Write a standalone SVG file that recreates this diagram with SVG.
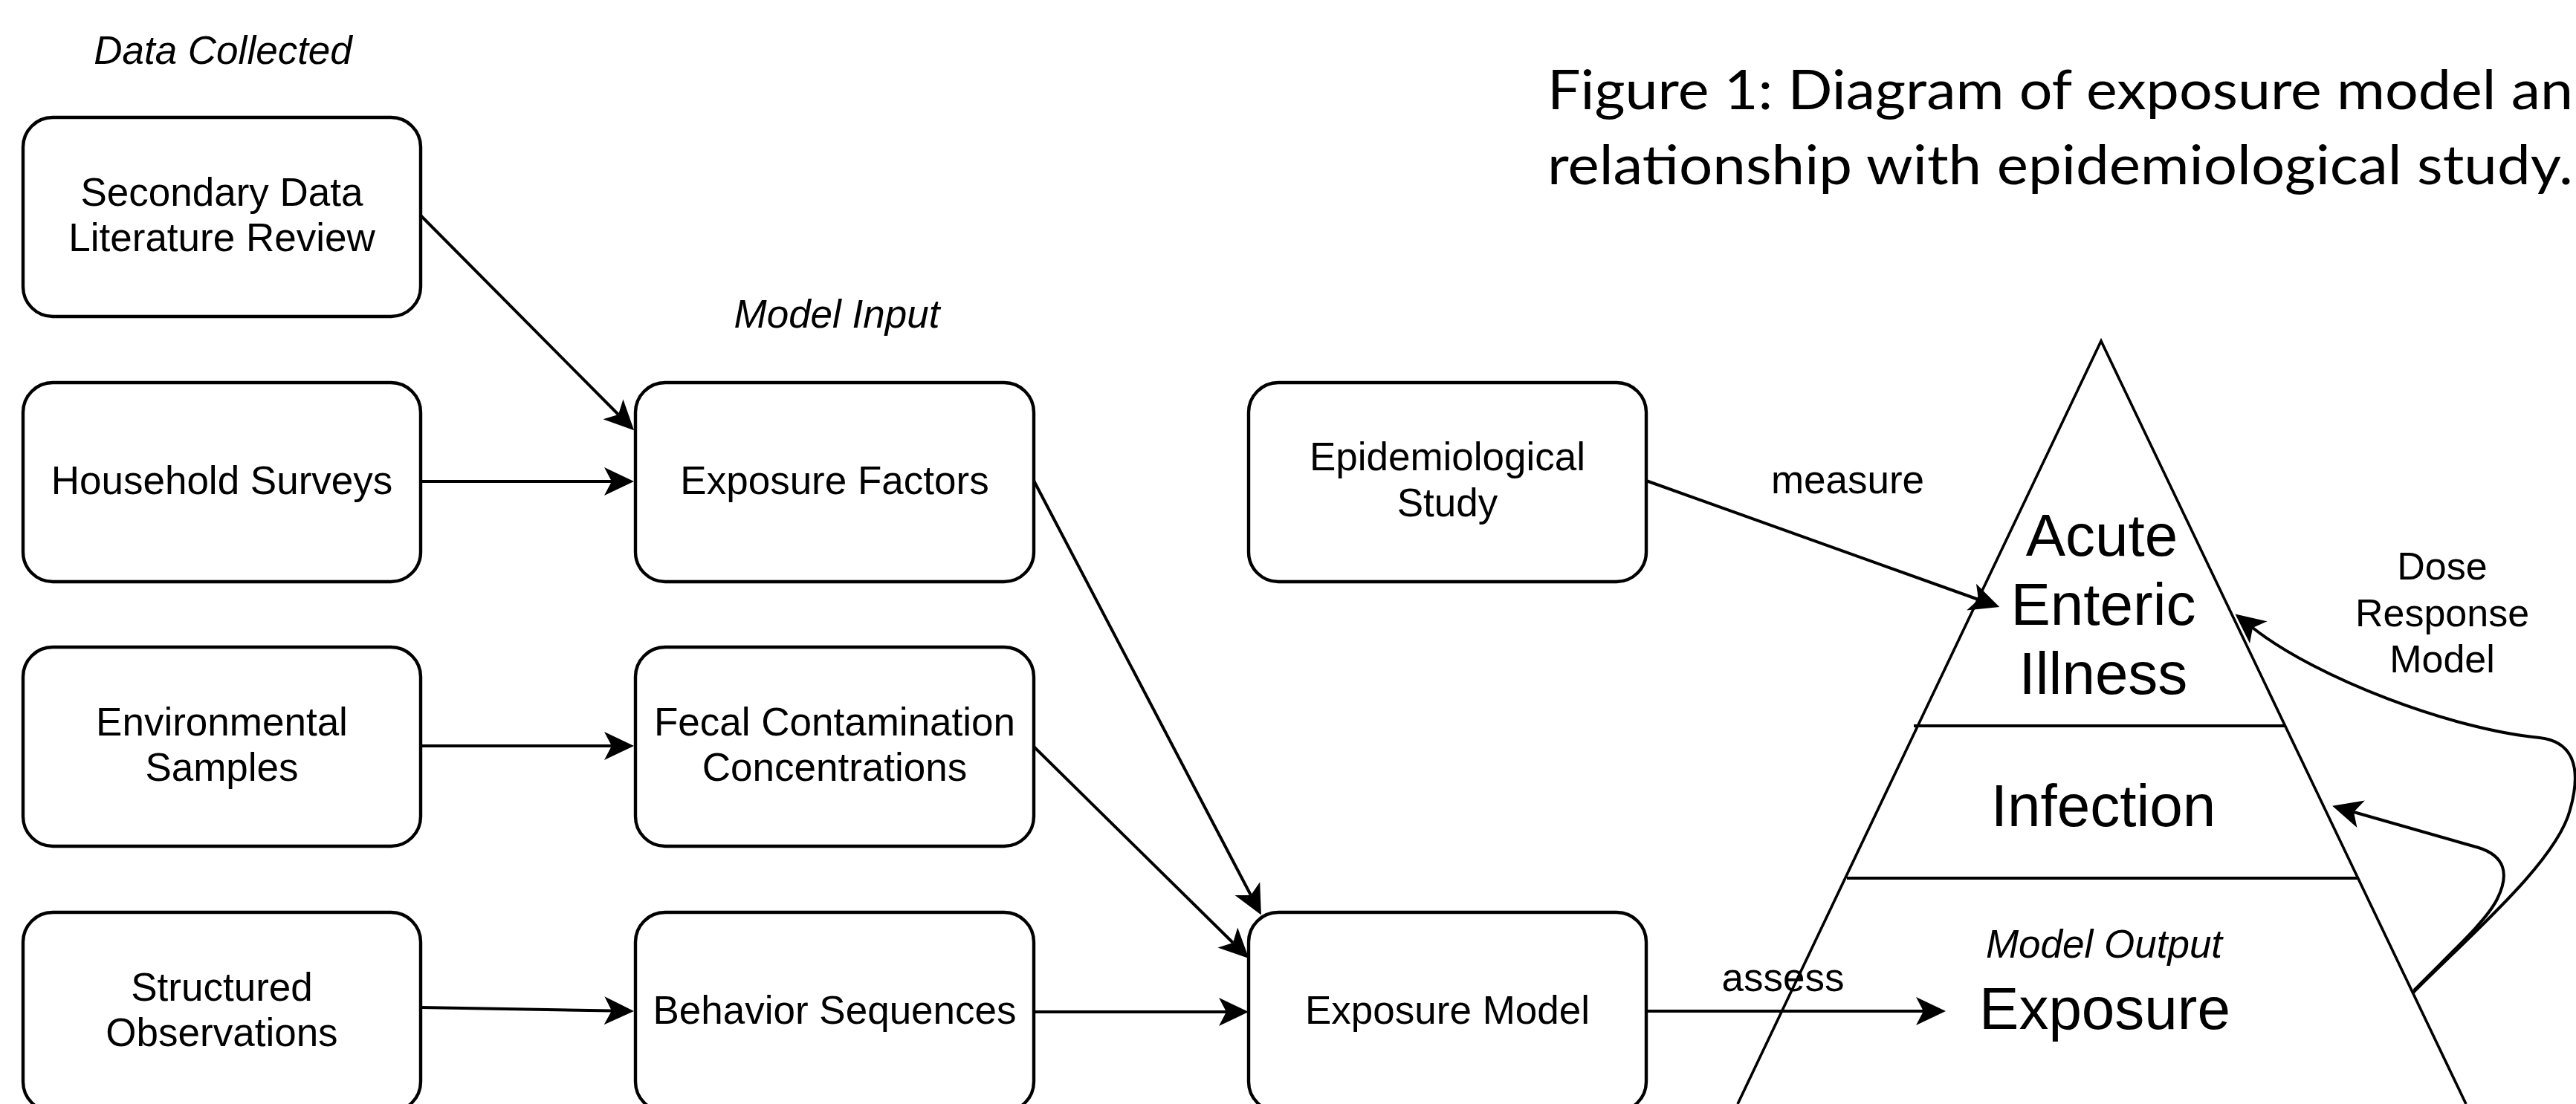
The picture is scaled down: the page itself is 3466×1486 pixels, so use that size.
<svg xmlns="http://www.w3.org/2000/svg" width="3466" height="1486" viewBox="0 0 3466 1486">
<style>
.box{fill:#fff;stroke:#000;stroke-width:4.4}
.t{font-family:"Liberation Sans",Arial,Helvetica,sans-serif;font-size:53px;fill:#000;text-anchor:middle}
.it{font-style:italic}
.big{font-size:80px}
.lbl{font-size:52px}
.edge{fill:none;stroke:#000;stroke-width:4;marker-end:url(#arr)}
.tri{fill:none;stroke:#000;stroke-width:3.6;stroke-linejoin:miter}
.div{fill:none;stroke:#000;stroke-width:4}
.title{font-family:Lato,"Open Sans",sans-serif;font-size:74px;fill:#000}
</style>
<defs>
<marker id="arr" markerUnits="userSpaceOnUse" markerWidth="46" markerHeight="44" viewBox="-12 -22 46 44" refX="0" refY="0" orient="auto">
<path d="M30 0 L-10 -19 L0 0 L-10 19 Z" fill="#000"/>
</marker>
</defs>
<rect width="3466" height="1486" fill="#fff"/>

<g id="title">
<text class="title" x="2082" y="147" textLength="1380" lengthAdjust="spacingAndGlyphs">Figure 1: Diagram of exposure model an</text>
<text class="title" x="2082" y="248" textLength="1380" lengthAdjust="spacingAndGlyphs">relationship with epidemiological study.</text>
</g>

<g id="headers">
<text class="t it" x="300" y="86">Data Collected</text>
<text class="t it" x="1126" y="441">Model Input</text>
</g>

<g id="pyramid">
<path class="tri" d="M2338 1486 L2827 459 L3318 1486"/>
<line class="div" x1="2575" y1="977" x2="3075" y2="977"/>
<line class="div" x1="2485" y1="1182" x2="3172" y2="1182"/>
<text class="t big" x="2828" y="748">Acute</text>
<text class="t big" x="2830" y="841">Enteric</text>
<text class="t big" x="2830" y="934">Illness</text>
<text class="t big" x="2830" y="1112">Infection</text>
<text class="t it" x="2831" y="1289">Model Output</text>
<text class="t big" x="2832" y="1385">Exposure</text>
</g>

<g id="n-secondary"><rect class="box" x="31" y="158" width="535" height="268" rx="40"/>
<text class="t" x="298.5" y="277">Secondary Data</text><text class="t" x="298.5" y="338">Literature Review</text></g>
<g id="n-household"><rect class="box" x="31" y="515" width="535" height="268" rx="40"/>
<text class="t" x="298.5" y="665">Household Surveys</text></g>
<g id="n-environmental"><rect class="box" x="31" y="871" width="535" height="268" rx="40"/>
<text class="t" x="298.5" y="990">Environmental</text><text class="t" x="298.5" y="1051">Samples</text></g>
<g id="n-structured"><rect class="box" x="31" y="1228" width="535" height="268" rx="40"/>
<text class="t" x="298.5" y="1347">Structured</text><text class="t" x="298.5" y="1408">Observations</text></g>

<g id="n-factors"><rect class="box" x="855" y="515" width="536" height="268" rx="40"/>
<text class="t" x="1123" y="665">Exposure Factors</text></g>
<g id="n-fecal"><rect class="box" x="855" y="871" width="536" height="268" rx="40"/>
<text class="t" x="1123" y="990">Fecal Contamination</text><text class="t" x="1123" y="1051">Concentrations</text></g>
<g id="n-behavior"><rect class="box" x="855" y="1228" width="536" height="268" rx="40"/>
<text class="t" x="1123" y="1378">Behavior Sequences</text></g>

<g id="n-epi"><rect class="box" x="1680" y="515" width="535" height="268" rx="40"/>
<text class="t" x="1947.5" y="633">Epidemiological</text><text class="t" x="1947.5" y="695">Study</text></g>
<g id="n-model"><rect class="box" x="1680" y="1228" width="535" height="268" rx="40"/>
<text class="t" x="1947.5" y="1378">Exposure Model</text></g>

<g id="connectors">
<path class="edge" d="M566 290 L832 558"/>
<path class="edge" d="M566 648 L823 648"/>
<path class="edge" d="M566 1004 L823 1004"/>
<path class="edge" d="M566 1356 L823 1360.5"/>
<path class="edge" d="M1391 647 L1683 1205"/>
<path class="edge" d="M1391 1005 L1659 1269"/>
<path class="edge" d="M1391 1362 L1650 1362"/>
<path class="edge" d="M2215 647 L2662 807"/>
<path class="edge" d="M2215 1361 L2588 1361"/>
<path class="edge" d="M3246 1337 C3320 1262 3440 1160 3458 1090 C3475 1030 3460 998 3417 993 C3300 982 3117 913 3031 845"/>
<path class="edge" d="M3248 1333 C3300 1280 3345 1240 3360 1210 C3377 1176 3370 1152 3335 1141 L3167 1093"/>
<text class="t" x="2486" y="664">measure</text>
<text class="t" x="2399" y="1334">assess</text>
<text class="t lbl" x="3286" y="780">Dose</text>
<text class="t lbl" x="3286" y="843">Response</text>
<text class="t lbl" x="3286" y="905">Model</text>
</g>
</svg>
